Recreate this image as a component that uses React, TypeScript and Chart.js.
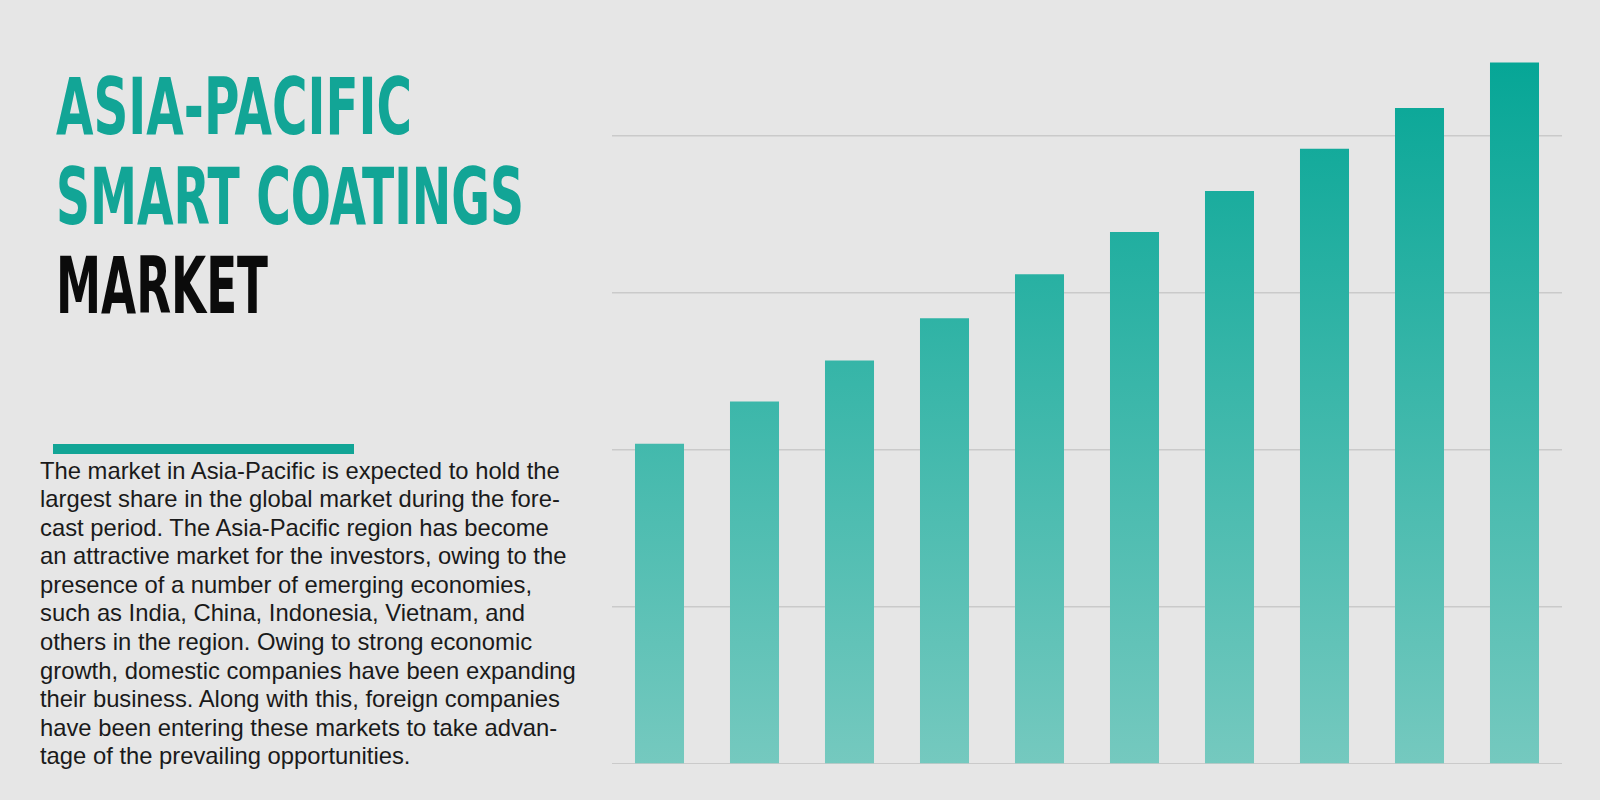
import { useEffect, useLayoutEffect, useRef } from "react"
import { Chart, type ChartConfiguration, registerables } from "chart.js"

Chart.register(...registerables)

const categories = ["2021", "2022", "2023", "2024", "2025", "2026", "2027", "2028", "2029", "2030"]
const marketValues = [2.04, 2.31, 2.57, 2.84, 3.12, 3.39, 3.65, 3.92, 4.18, 4.47]
const yTicks = [0, 1, 2, 3, 4]

const titleLines = [
  { text: "ASIA-PACIFIC", color: "#12a596", width: 356, top: 67.5 },
  { text: "SMART COATINGS", color: "#12a596", width: 468, top: 157.5 },
  { text: "MARKET", color: "#0b0b0b", width: 212, top: 247 },
]

const bodyLines = [
  "The market in Asia-Pacific is expected to hold the",
  "largest share in the global market during the fore-",
  "cast period. The Asia-Pacific region has become",
  "an attractive market for the investors, owing to the",
  "presence of a number of emerging economies,",
  "such as India, China, Indonesia, Vietnam, and",
  "others in the region. Owing to strong economic",
  "growth, domestic companies have been expanding",
  "their business. Along with this, foreign companies",
  "have been entering these markets to take advan-",
  "tage of the prevailing opportunities.",
]

function TitleLine({ text, color, width, top }: { text: string; color: string; width: number; top: number }) {
  const ref = useRef<HTMLSpanElement>(null)

  useLayoutEffect(() => {
    const el = ref.current
    if (!el) return
    el.style.transform = "none"
    const w = el.getBoundingClientRect().width
    if (w > 0) el.style.transform = `scaleX(${width / w})`
  }, [width])

  return (
    <span
      ref={ref}
      style={{
        position: "absolute",
        left: 56,
        top,
        fontFamily: "'Liberation Sans Narrow', 'DejaVu Sans Condensed', sans-serif",
        fontWeight: 700,
        fontSize: 78,
        lineHeight: 1,
        color,
        whiteSpace: "nowrap",
        transformOrigin: "left top",
        display: "inline-block",
      }}
    >
      {text}
    </span>
  )
}

function BarChart() {
  const chartRef = useRef<HTMLCanvasElement>(null)
  const chartInstance = useRef<Chart | null>(null)

  useEffect(() => {
    if (!chartRef.current) return
    const ctx = chartRef.current.getContext("2d")
    if (!ctx) return

    if (chartInstance.current) chartInstance.current.destroy()

    const config: ChartConfiguration = {
      type: "bar",
      data: {
        labels: categories,
        datasets: [
          {
            label: "Market",
            data: marketValues,
            backgroundColor: (context) => {
              const { ctx: c, chartArea } = context.chart
              if (!chartArea) return "#3db8aa"
              const g = c.createLinearGradient(0, chartArea.top, 0, chartArea.bottom)
              g.addColorStop(0, "#03a595")
              g.addColorStop(1, "#75c9bf")
              return g
            },
            barPercentage: 0.516,
            categoryPercentage: 1,
          },
        ],
      },
      options: {
        animation: false,
        responsive: true,
        maintainAspectRatio: false,
        layout: { padding: 0 },
        scales: {
          x: { display: false },
          y: {
            min: 0,
            max: 4.6,
            afterBuildTicks: (axis) => {
              axis.ticks = yTicks.map((v) => ({ value: v }))
            },
            ticks: { display: false },
            border: { display: false },
            grid: {
              color: "#cacaca",
              lineWidth: 1.5,
              drawTicks: false,
            },
          },
        },
        plugins: {
          legend: { display: false },
          tooltip: { enabled: false },
        },
      },
    }

    chartInstance.current = new Chart(ctx, config)

    return () => {
      if (chartInstance.current) {
        chartInstance.current.destroy()
        chartInstance.current = null
      }
    }
  }, [])

  return (
    <div style={{ position: "absolute", left: 612, top: 42, width: 950, height: 722 }}>
      <canvas ref={chartRef} />
    </div>
  )
}

export default function App() {
  return (
    <div
      style={{
        position: "fixed",
        left: 0,
        top: 0,
        width: 1600,
        height: 800,
        background: "#e6e6e6",
        overflow: "hidden",
      }}
    >
      {titleLines.map((l) => (
        <TitleLine key={l.text} {...l} />
      ))}
      <div style={{ position: "absolute", left: 53, top: 444, width: 301, height: 10, background: "#12a596" }} />
      <div
        style={{
          position: "absolute",
          left: 40,
          top: 456.5,
          fontFamily: "'Liberation Sans', Arial, sans-serif",
          fontSize: 23.8,
          lineHeight: "28.6px",
          color: "#1a1a1a",
          whiteSpace: "nowrap",
        }}
      >
        {bodyLines.map((line) => (
          <div key={line}>{line}</div>
        ))}
      </div>
      <BarChart />
    </div>
  )
}
